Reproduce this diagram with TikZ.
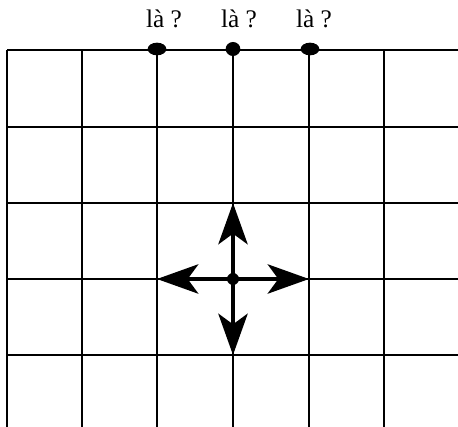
\documentclass[tikz,border=0pt]{standalone}
\usepackage{fontspec}
\setmainfont{Liberation Serif}
\usetikzlibrary{arrows.meta,shapes.geometric}
\begin{document}
\begin{tikzpicture}[x=0.75pt,y=-0.75pt,
  gridline/.style={line width=1.8pt,black},
  bigdot/.style={ellipse,fill=black,inner sep=0pt,minimum width=14pt,minimum height=9.5pt},
  smalldot/.style={ellipse,fill=black,inner sep=0pt,minimum width=11pt,minimum height=10.5pt},
  centerdot/.style={circle,fill=black,inner sep=0pt,minimum size=9pt},
  lbl/.style={font=\fontsize{19}{21}\selectfont,inner sep=0pt,anchor=base},
  movearrow/.style={line width=2.8pt,-{Stealth[length=31pt,width=22pt,inset=8pt]}}]
\useasboundingbox (0,0) rectangle (458,427);
% grid
\foreach \y in {50,127,203,279,355} \draw[gridline] (7,\y) -- (458,\y);
\foreach \x in {7,82,157,233,309,384} \draw[gridline] (\x,50) -- (\x,427);
% top dots
\node[bigdot] (d1) at (157,49) {};
\node[smalldot] (d2) at (233,49) {};
\node[bigdot] (d3) at (310,49) {};
% labels
\node[lbl] (l1) at (164,28) {là ?};
\node[lbl] (l2) at (239,28) {là ?};
\node[lbl] (l3) at (314,28) {là ?};
% centre and arrow targets
\node[centerdot] (c) at (233,279) {};
\coordinate (left) at (157,279);
\coordinate (right) at (309,279);
\coordinate (up) at (233,203);
\coordinate (down) at (233,355);
\draw[movearrow] (c.center) -- (left);
\draw[movearrow] (c.center) -- (right);
\draw[movearrow] (c.center) -- (up);
\draw[movearrow] (c.center) -- (down);
\end{tikzpicture}
\end{document}
